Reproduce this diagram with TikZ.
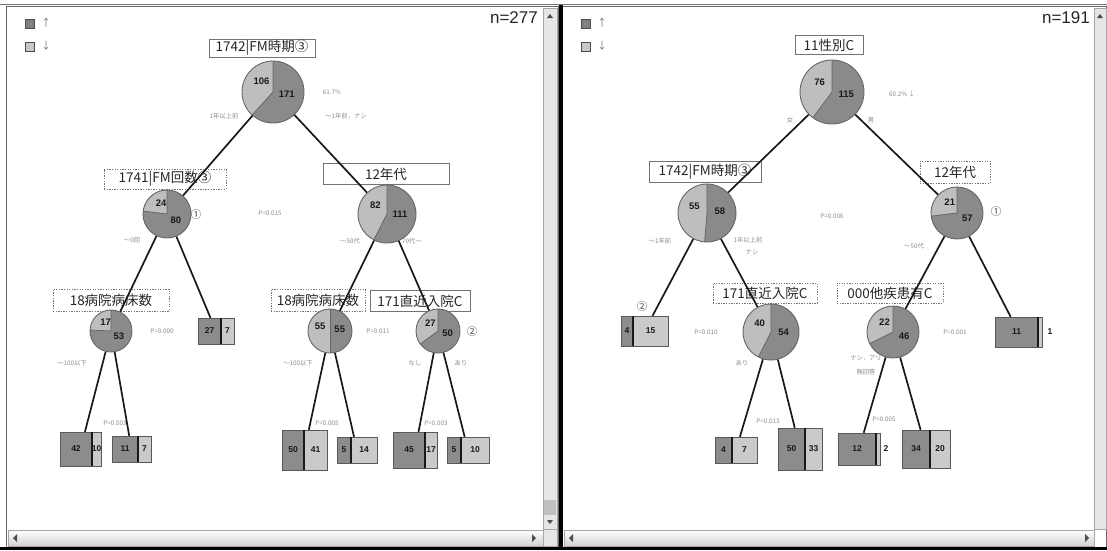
\documentclass[tikz,border=0pt]{standalone}
\usepackage{fontspec}
\setmainfont{Liberation Sans}
\newfontfamily\cjk{Noto Sans CJK JP}
\definecolor{piedarkc}{HTML}{8A8A8A}
\definecolor{pielightc}{HTML}{BEBEBE}
\definecolor{pieedgec}{HTML}{666666}
\definecolor{leafdarkc}{HTML}{8C8C8C}
\definecolor{leaflightc}{HTML}{CACACA}
\definecolor{scrollc}{HTML}{E6E6E6}
\newcommand\piechart[6]{%
  \pgfmathsetmacro\pa{360/(#5+#6)*#5}%
  \fill[pielightc] (#2,-#3) -- ++(90:#4) arc[start angle=90, delta angle=\pa, radius=#4] -- cycle;
  \fill[piedarkc] (#2,-#3) -- ++({90+\pa}:#4) arc[start angle={90+\pa}, end angle=450, radius=#4] -- cycle;
  \draw[pieedgec, line width=0.8pt] (#2,-#3) -- ++(90:#4) (#2,-#3) -- ++({90+\pa}:#4);
  \node[circle, draw=pieedgec, line width=0.9pt, minimum size={2*#4pt}, inner sep=0] (#1) at (#2,-#3) {};
  \node[pienum, shift={({90+0.35*\pa}:{0.5*#4})}] (#1l) at (#2,-#3) {#5};
  \node[pienum, shift={({90+\pa+0.55*(360-\pa)}:{0.45*#4})}] (#1d) at (#2,-#3) {#6};
}
\newcommand\leafbox[8]{%
  \node[inner sep=0, minimum width={(#5-#2)*1pt}, minimum height={(#6-#3)*1pt}] (#1) at ({(#2+#5)/2},{-(#3+#6)/2}) {};
  \fill[leafdarkc] (#2,-#3) rectangle (#4,-#6);
  \fill[leaflightc] (#4,-#3) rectangle (#5,-#6);
  \draw[black!65, line width=0.8pt] (#2,-#3) rectangle (#5,-#6);
  \draw[black!90, line width=1.5pt] (#4,-#3) -- (#4,-#6);
  \node[leafnum] (#1d) at ({(#2+#4)/2},{-(#3+#6)/2}) {#7};
  \node[leafnum] (#1l) at ({(#4+#5)/2},{-(#3+#6)/2}) {#8};
}
\begin{document}
\begin{tikzpicture}[x=1pt,y=1pt,
  conn/.style={draw=black!90, line width=1.7pt},
  solidlab/.style={draw=black!55, fill=white, line width=0.6pt, inner sep=1pt, font=\cjk\fontsize{13.5}{14}\selectfont, text=black!85},
  dashlab/.style={solidlab, dash pattern=on 1.3pt off 1.3pt},
  small/.style={font=\cjk\fontsize{6.3}{7}\selectfont, text=black!45, inner sep=0},
  pienum/.style={font=\bfseries\fontsize{9.5}{10}\selectfont, text=black!90, inner sep=0},
  leafnum/.style={font=\bfseries\fontsize{8.5}{9}\selectfont, text=black!90, inner sep=0},
  circnum/.style={font=\cjk\fontsize{10.5}{11}\selectfont, text=black!75, inner sep=0},
  legsq/.style={draw=black!70, line width=0.6pt, minimum size=9pt, inner sep=0},
  legar/.style={font=\cjk\fontsize{10}{10}\selectfont, text=black!55, inner sep=0},
  ntext/.style={font=\fontsize{17}{17}\selectfont, text=black!85, inner sep=0, anchor=east},
  sbar/.style={fill=scrollc, draw=black!35, line width=0.4pt},
  arr/.style={fill=black!70}
]
\useasboundingbox (0,0) rectangle (1107,-550);
\fill[white] (0,0) rectangle (1107,-550);
% ---------- frames and scroll bars ----------
\draw[black!55, line width=0.6pt] (0,-4) -- (1107,-4);
\draw[black!60, line width=0.8pt] (6,-6) rectangle (558,-548);
\draw[black!60, line width=0.8pt] (562,-6) rectangle (1106,-548);
\fill[black] (558.5,-5) rectangle (563,-550);
\fill[black] (0,-547) rectangle (1107,-550);
% left panel scroll bars
\draw[sbar] (543,-8) rectangle (557,-529);
\draw[sbar, top color=white, bottom color=black!18] (8,-530) rectangle (543,-546);
\draw[sbar, fill=black!10] (543,-529) rectangle (557,-546);
\fill[black!25] (544,-500) rectangle (556,-515);
\fill[arr] (550,-14) -- (547,-18) -- (553,-18) -- cycle;
\fill[arr] (550,-524) -- (547,-520) -- (553,-520) -- cycle;
\fill[arr] (13,-538) -- (17,-534) -- (17,-542) -- cycle;
\fill[arr] (536,-538) -- (532,-534) -- (532,-542) -- cycle;
% right panel scroll bars
\draw[sbar] (1094,-8) rectangle (1106,-529);
\draw[sbar, top color=white, bottom color=black!18] (564,-530) rectangle (1094,-546);
\fill[arr] (1100,-14) -- (1097,-18) -- (1103,-18) -- cycle;
\fill[arr] (569,-538) -- (573,-534) -- (573,-542) -- cycle;
\fill[arr] (1089,-538) -- (1085,-534) -- (1085,-542) -- cycle;

% ================= LEFT PANEL =================
\node[legsq, fill=black!50] (la) at (30,-24) {};
\node[legar] (lat) at (46,-23) {↑};
\node[legsq, fill=black!22] (lb) at (30,-47) {};
\node[legar] (lbt) at (46,-46) {↓};
\node[ntext] (nl) at (538,-18) {n=277};

% labels
\node[solidlab, minimum width=106pt, minimum height=18pt] (a0t) at (262,-48) {1742|FM時期③};
\node[dashlab, minimum width=122pt, minimum height=20pt] (a1t) at (165,-179) {1741|FM回数③};
\node[solidlab, minimum width=126pt, minimum height=21pt] (a2t) at (386,-174) {12年代};
\node[dashlab, minimum width=116pt, minimum height=22pt] (a3t) at (111,-300) {18病院病床数};
\node[dashlab, minimum width=94pt, minimum height=22pt] (a5t) at (318,-300) {18病院病床数};
\node[solidlab, minimum width=100pt, minimum height=21pt] (a6t) at (420,-301) {171直近入院C};

% pies
\piechart{a0}{273}{92}{31}{106}{171}
\piechart{a1}{167}{214}{24}{24}{80}
\piechart{a2}{387}{214}{29}{82}{111}
\piechart{a3}{111}{331}{21}{17}{53}
\piechart{a5}{330}{331}{22}{55}{55}
\piechart{a6}{438}{331}{22}{27}{50}

% leaves
\leafbox{a4}{198}{318}{221}{234}{344}{27}{7}
\leafbox{a7}{60}{432}{92}{101}{466}{42}{10}
\leafbox{a8}{112}{436}{138}{151}{462}{11}{7}
\leafbox{a9}{282}{430}{304}{327}{470}{50}{41}
\leafbox{a10}{337}{437}{351}{377}{463}{5}{14}
\leafbox{a11}{393}{432}{425}{437}{468}{45}{17}
\leafbox{a12}{447}{437}{461}{489}{463}{5}{10}

% small texts
\node[small] (s1) at (332,-92) {61.7\%};
\node[small] (s2) at (224,-116) {1年以上前};
\node[small] (s3) at (346,-116) {〜1年前，ナシ};
\node[circnum] (c1) at (196,-215) {①};
\node[small] (s4) at (270,-213) {P=0.015};
\node[small] (s5) at (132,-240) {〜0回};
\node[small] (s6) at (350,-241) {〜50代};
\node[small] (s7) at (412,-241) {70代〜};
\node[small] (s8) at (162,-331) {P=0.000};
\node[small] (s9) at (378,-331) {P=0.011};
\node[circnum] (c2) at (472,-331) {②};
\node[small] (s10) at (72,-363) {〜100以下};
\node[small] (s11) at (298,-363) {〜100以下};
\node[small] (s12) at (415,-363) {なし};
\node[small] (s13) at (461,-363) {あり};
\node[small] (s14) at (115,-423) {P=0.003};
\node[small] (s15) at (327,-423) {P=0.005};
\node[small] (s16) at (436,-423) {P=0.003};

% connectors
\draw[conn] (a0) -- (a1);
\draw[conn] (a0) -- (a2);
\draw[conn] (a1) -- (a3);
\draw[conn] (a1) -- (a4);
\draw[conn] (a2) -- (a5);
\draw[conn] (a2) -- (a6);
\draw[conn] (a3) -- (a7);
\draw[conn] (a3) -- (a8);
\draw[conn] (a5) -- (a9);
\draw[conn] (a5) -- (a10);
\draw[conn] (a6) -- (a11);
\draw[conn] (a6) -- (a12);

% ================= RIGHT PANEL =================
\node[legsq, fill=black!50] (ra) at (586,-24) {};
\node[legar] (rat) at (602,-23) {↑};
\node[legsq, fill=black!22] (rb) at (586,-47) {};
\node[legar] (rbt) at (602,-46) {↓};
\node[ntext] (nr) at (1090,-18) {n=191};

\node[solidlab, minimum width=68pt, minimum height=19pt] (b0t) at (829,-45) {11性別C};
\node[solidlab, minimum width=112pt, minimum height=21pt] (b1t) at (705,-172) {1742|FM時期③};
\node[dashlab, minimum width=70pt, minimum height=22pt] (b2t) at (955,-172) {12年代};
\node[dashlab, minimum width=104pt, minimum height=20pt] (b4t) at (765,-293) {171直近入院C};
\node[dashlab, minimum width=106pt, minimum height=20pt] (b5t) at (890,-293) {000他疾患有C};

\piechart{b0}{832}{92}{32}{76}{115}
\piechart{b1}{707}{213}{29}{55}{58}
\piechart{b2}{957}{213}{26}{21}{57}
\piechart{b4}{771}{332}{28}{40}{54}
\piechart{b5}{893}{332}{26}{22}{46}

\leafbox{b3}{621}{316}{633}{668}{346}{4}{15}
\leafbox{b6}{995}{317}{1038}{1042}{347}{11}{}
\leafbox{b7}{715}{437}{732}{757}{463}{4}{7}
\leafbox{b8}{778}{428}{805}{822}{470}{50}{33}
\leafbox{b9}{838}{433}{876}{880}{465}{12}{}
\leafbox{b10}{902}{430}{930}{950}{468}{34}{20}
\node[leafnum] (b6x) at (1050,-332) {1};
\node[leafnum] (b9x) at (886,-449) {2};

\node[small] (t1) at (902,-94) {60.2\% ↓};
\node[small] (t2) at (790,-120) {女};
\node[small] (t3) at (871,-120) {男};
\node[small] (t4) at (660,-241) {〜1年前};
\node[small] (t5) at (748,-240) {1年以上前};
\node[small] (t6) at (752,-252) {ナシ};
\node[small] (t7) at (832,-216) {P=0.006};
\node[circnum] (c3) at (996,-212) {①};
\node[small] (t8) at (914,-246) {〜50代};
\node[circnum] (c4) at (642,-306) {②};
\node[small] (t9) at (706,-332) {P=0.010};
\node[small] (t10) at (955,-332) {P=0.001};
\node[small] (t11) at (742,-363) {あり};
\node[small] (t12) at (866,-358) {ナシ，アリ};
\node[small] (t13) at (866,-372) {無回答};
\node[small] (t14) at (768,-421) {P=0.013};
\node[small] (t15) at (884,-419) {P=0.005};

\draw[conn] (b0) -- (b1);
\draw[conn] (b0) -- (b2);
\draw[conn] (b1) -- (b3);
\draw[conn] (b1) -- (b4);
\draw[conn] (b2) -- (b5);
\draw[conn] (b2) -- (b6);
\draw[conn] (b4) -- (b7);
\draw[conn] (b4) -- (b8);
\draw[conn] (b5) -- (b9);
\draw[conn] (b5) -- (b10);
\end{tikzpicture}
\end{document}
